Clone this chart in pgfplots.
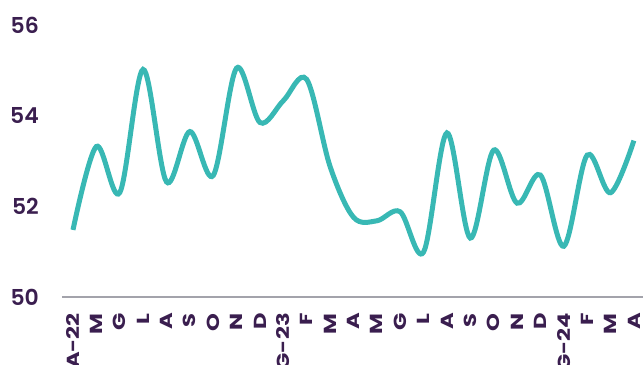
\documentclass[border=0pt]{standalone}
\usepackage{pgfplots}
\pgfplotsset{compat=1.18}
\usepackage{fontspec}
\setmainfont{Poppins}[UprightFont={* SemiBold}]
\newfontfamily\xfont{Poppins}[UprightFont={* Bold}, FakeStretch=1.3]
\definecolor{teal1}{HTML}{38B8B4}
\definecolor{purp}{HTML}{3A1E4F}
\definecolor{axgray}{HTML}{A3A3AB}
\begin{document}
\begin{tikzpicture}
\useasboundingbox (0,0) rectangle (643bp,365bp);
\begin{axis}[
  scale only axis,
  width=581bp, height=272bp,
  at={(62bp,68bp)}, anchor=south west,
  xmin=-0.47, xmax=24.39,
  ymin=50, ymax=56,
  ytick={50,52,54,56},
  xtick={0,...,24},
  xticklabels={A-22,M,G,L,A,S,O,N,D,G-23,F,M,A,M,G,L,A,S,O,N,D,G-24,F,M,A},
  axis x line*=bottom,
  axis y line*=left,
  x axis line style={draw=axgray, line width=1.6bp, -},
  y axis line style={draw=none},
  major tick length=0pt,
  tick style={draw=none},
  /pgf/number format/assume math mode=true,
  ticklabel style={font=\fontsize{22}{24}\selectfont, text=purp},
  yticklabel style={anchor=east, inner sep=0pt, xshift=-23bp},
  xticklabel style={rotate=90, anchor=east, inner sep=0pt, xshift=-16bp, font=\xfont\fontsize{17.5}{20}\selectfont},
  clip=false,
]
\addplot[teal1, line width=5bp, smooth, tension=0.55] coordinates {
(0,51.48) (1,53.32) (2,52.3) (3,55.02) (4,52.54) (5,53.65) (6,52.68) (7,55.05)
(8,53.85) (9,54.33) (10,54.8) (11,52.88) (12,51.76) (13,51.68) (14,51.88)
(15,50.99) (16,53.62) (17,51.3) (18,53.24) (19,52.07) (20,52.69) (21,51.12)
(22,53.13) (23,52.3) (24,53.45)
};
\end{axis}
\end{tikzpicture}
\end{document}
